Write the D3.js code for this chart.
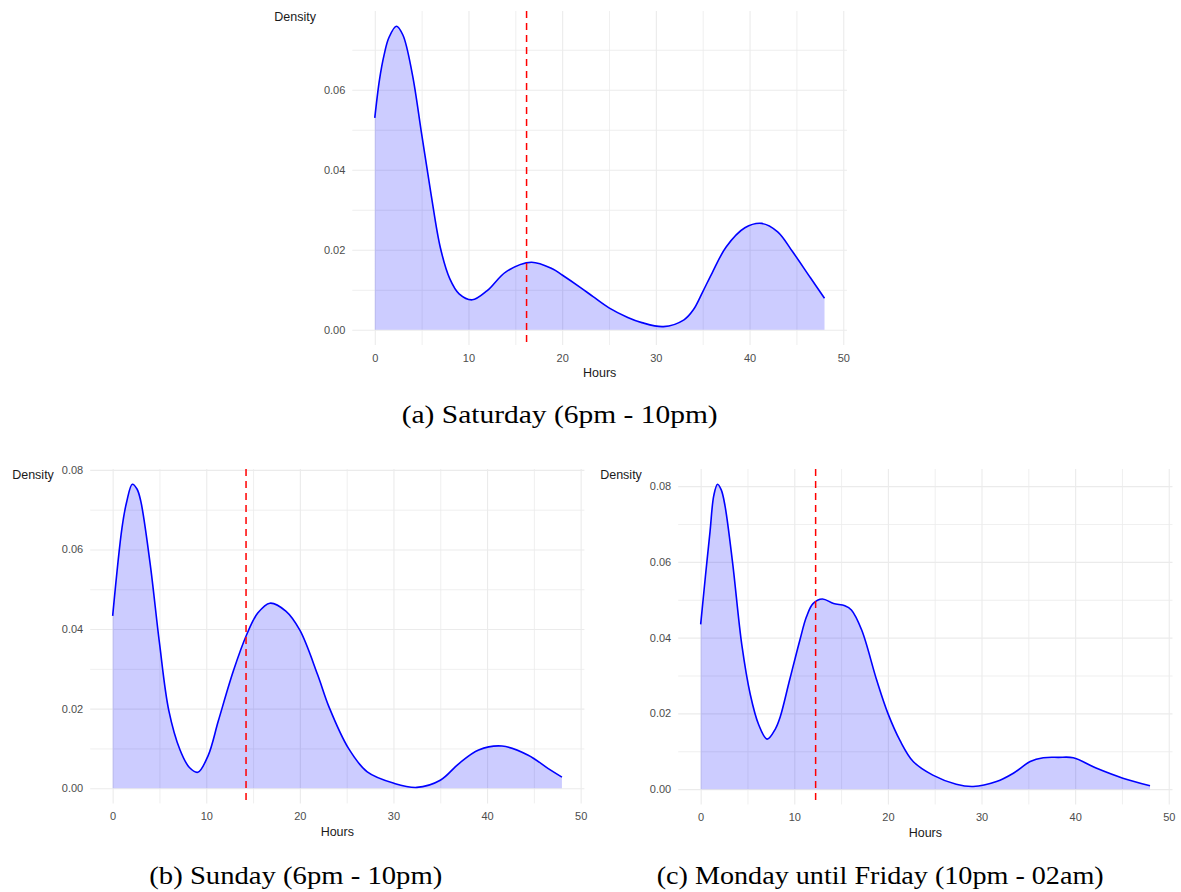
<!DOCTYPE html>
<html>
<head>
<meta charset="utf-8">
<script src="https://d3js.org/d3.v7.min.js"></script>
<style>
    body { margin: 0; background: #fff; }
    .grid line { stroke: #ebebeb; }
    .grid path { stroke-width: 0; }
    .tick-labels path { stroke-width: 0; }
    .tick-labels text { font-family: "Liberation Sans", Arial, sans-serif; font-size: 11px; fill: #4d4d4d; }
    .axis-title { font-family: "Liberation Sans", Arial, sans-serif; font-size: 12.5px; fill: #1a1a1a; }
    .caption { font-family: "Liberation Serif", "Times New Roman", serif; font-size: 25px; fill: #000; }
    .density-area { fill: blue; fill-opacity: 0.2; }
    .density-line { fill: none; stroke: blue; stroke-width: 1.6px; }
    .mean-line { stroke: red; stroke-width: 1.5px; stroke-dasharray: 7 5; }
</style>
</head>
<body>
<svg id="chart" width="1181" height="892"></svg>
<script>
    // Saturday (6pm - 10pm)
    const hoursSat = [0, 0.5, 1, 1.5, 2.3, 3, 4, 5, 6, 7, 8, 9, 10.4, 12, 14, 16.7, 19, 20, 22, 23.3, 25, 27, 28.5, 30.8, 33, 34, 35, 36, 37.5, 39.5, 41.3, 43, 44.6, 46.5, 48];
    const densSat  = [0.053, 0.0625, 0.0688, 0.073, 0.0759, 0.0737, 0.064, 0.049, 0.034, 0.0205, 0.0128, 0.009, 0.0075, 0.0098, 0.0145, 0.0169, 0.0152, 0.0137, 0.0105, 0.0083, 0.0055, 0.0031, 0.0018, 0.0008, 0.0025, 0.005, 0.0095, 0.0142, 0.0207, 0.0255, 0.0266, 0.0245, 0.0195, 0.013, 0.0079];
    const meanSat = 16.2;

    // Sunday (6pm - 10pm)
    const hoursSun = [0, 1, 1.5, 2.1, 2.6, 3, 4, 5, 6, 7.2, 8.2, 9.1, 10.2, 11.3, 12.9, 14.3, 15.5, 16.8, 18.5, 20, 21.9, 23.1, 25.2, 27.2, 30.1, 32.5, 35, 37, 39.1, 41.6, 44.4, 46.5, 48];
    const densSun  = [0.0433, 0.0655, 0.072, 0.0764, 0.0752, 0.0722, 0.0565, 0.0365, 0.0195, 0.0096, 0.0052, 0.004, 0.0082, 0.017, 0.0295, 0.0385, 0.044, 0.0465, 0.0445, 0.0397, 0.0285, 0.0205, 0.010, 0.0041, 0.0012, 0.0002, 0.002, 0.0062, 0.0096, 0.0106, 0.0083, 0.005, 0.0028];
    const meanSun = 14.25;

    // Monday until Friday (10pm - 02am)
    const hoursWeek = [0, 0.5, 1, 1.4, 1.8, 2.2, 2.6, 3.4, 4.4, 5.3, 6.2, 7.1, 8, 8.5, 9.5, 10.6, 11.3, 12, 13, 14.2, 15.4, 16.1, 17.2, 18.8, 20, 21.3, 22.7, 24.8, 27.3, 29.1, 31.6, 33.4, 35.2, 36.6, 38.2, 39.8, 42.3, 45.1, 48];
    const densWeek  = [0.0435, 0.056, 0.068, 0.0775, 0.0805, 0.079, 0.0748, 0.060, 0.038, 0.025, 0.017, 0.0132, 0.016, 0.0191, 0.0288, 0.0394, 0.0455, 0.049, 0.0502, 0.049, 0.0484, 0.0473, 0.042, 0.0288, 0.020, 0.0128, 0.0073, 0.0037, 0.0013, 0.0007, 0.002, 0.0042, 0.0073, 0.0083, 0.0084, 0.0083, 0.0055, 0.0029, 0.0009];
    const meanWeek = 12.28;

    // Ticks
    const xMajor = [0, 10, 20, 30, 40, 50];
    const xMinor = [5, 15, 25, 35, 45];
    const yMajorSat = [0, 0.02, 0.04, 0.06];
    const yMinorSat = [0.01, 0.03, 0.05, 0.07];
    const yMajor = [0, 0.02, 0.04, 0.06, 0.08];
    const yMinor = [0.01, 0.03, 0.05, 0.07];

    const captions = ["(a) Saturday (6pm - 10pm)", "(b) Sunday (6pm - 10pm)", "(c) Monday until Friday (10pm - 02am)"];

    const svg = d3.select("#chart");

    // panel boxes in pixels (plot area incl. ggplot 5% expansion)
    const panels = [
        { hours: hoursSat, dens: densSat, mean: meanSat, yMaj: yMajorSat, yMin: yMinorSat,
          left: 352.3, right: 847, top: 11, bottom: 345,
          caption: captions[0], capX: 401.7, capW: 316, capY: 423 },
        { hours: hoursSun, dens: densSun, mean: meanSun, yMaj: yMajor, yMin: yMinor,
          left: 90.2, right: 584.4, top: 469, bottom: 803.4,
          caption: captions[1], capX: 149.3, capW: 293, capY: 884 },
        { hours: hoursWeek, dens: densWeek, mean: meanWeek, yMaj: yMajor, yMin: yMinor,
          left: 678.2, right: 1172.5, top: 469, bottom: 804.4,
          caption: captions[2], capX: 656.7, capW: 447, capY: 884 }
    ];

    panels.forEach(p => {
        const pts = p.hours.map((h, i) => ({ h: h, d: p.dens[i] }));
        const xExt = d3.extent(p.hours);
        const xPad = (xExt[1] - xExt[0]) * 0.05;
        const yMax = d3.max(p.dens);

        const x = d3.scaleLinear()
            .domain([xExt[0] - xPad, xExt[1] + xPad])
            .range([p.left, p.right]);
        const y = d3.scaleLinear()
            .domain([-yMax * 0.05, yMax * 1.05])
            .range([p.bottom, p.top]);

        const g = svg.append("g");
        const h = p.bottom - p.top;
        const w = p.right - p.left;

        // minor grid
        g.append("g").attr("class", "grid")
            .attr("transform", `translate(0,${p.bottom})`)
            .call(d3.axisBottom(x).tickValues(xMinor).tickSize(-h).tickFormat(""))
            .selectAll("line").attr("stroke-width", 0.8);
        g.append("g").attr("class", "grid")
            .attr("transform", `translate(${p.left},0)`)
            .call(d3.axisLeft(y).tickValues(p.yMin).tickSize(-w).tickFormat(""))
            .selectAll("line").attr("stroke-width", 0.8);
        // major grid
        g.append("g").attr("class", "grid")
            .attr("transform", `translate(0,${p.bottom})`)
            .call(d3.axisBottom(x).tickValues(xMajor).tickSize(-h).tickFormat(""))
            .selectAll("line").attr("stroke-width", 1.1);
        g.append("g").attr("class", "grid")
            .attr("transform", `translate(${p.left},0)`)
            .call(d3.axisLeft(y).tickValues(p.yMaj).tickSize(-w).tickFormat(""))
            .selectAll("line").attr("stroke-width", 1.1);

        // tick labels
        g.append("g").attr("class", "tick-labels")
            .attr("transform", `translate(0,${p.bottom})`)
            .call(d3.axisBottom(x).tickValues(xMajor).tickSize(0).tickPadding(9).tickFormat(d3.format("d")));
        g.append("g").attr("class", "tick-labels")
            .attr("transform", `translate(${p.left},0)`)
            .call(d3.axisLeft(y).tickValues(p.yMaj).tickSize(0).tickPadding(7).tickFormat(d3.format(".2f")));
        g.selectAll(".tick-labels .tick line").remove();

        // density area and curve
        const area = d3.area()
            .x(d => x(d.h))
            .y0(y(0))
            .y1(d => y(d.d))
            .curve(d3.curveCatmullRom.alpha(0.5));
        const line = d3.line()
            .x(d => x(d.h))
            .y(d => y(d.d))
            .curve(d3.curveCatmullRom.alpha(0.5));
        g.append("path").datum(pts).attr("class", "density-area").attr("d", area);
        g.append("path").datum(pts).attr("class", "density-line").attr("d", line);

        // mean line
        g.append("line").attr("class", "mean-line")
            .attr("x1", x(p.mean)).attr("x2", x(p.mean))
            .attr("y1", p.top).attr("y2", p.bottom);

        // axis titles
        g.append("text").attr("class", "axis-title")
            .attr("x", (p.left + p.right) / 2)
            .attr("y", p.bottom + 32.3)
            .attr("text-anchor", "middle")
            .text("Hours");
        g.append("text").attr("class", "axis-title")
            .attr("x", p.left - 78)
            .attr("y", p.top + 9.5)
            .text("Density");

        // caption
        svg.append("text").attr("class", "caption")
            .attr("x", p.capX)
            .attr("y", p.capY)
            .attr("textLength", p.capW)
            .attr("lengthAdjust", "spacingAndGlyphs")
            .text(p.caption);
    });
</script>
</body>
</html>
